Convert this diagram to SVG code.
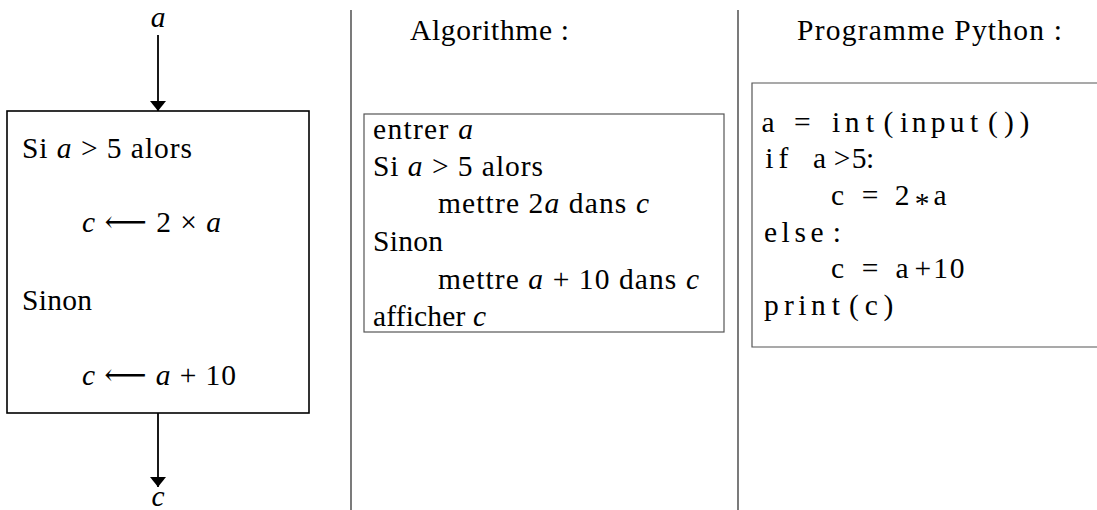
<svg xmlns="http://www.w3.org/2000/svg" width="1097" height="510" viewBox="0 0 1097 510" font-family="'Liberation Serif','DejaVu Serif',serif">
<style>
text{font-family:"Liberation Serif","DejaVu Serif",serif;font-size:29.5px;fill:#000;white-space:pre}
.i{font-style:italic}
.code text{text-anchor:middle}
.box{fill:none;stroke:#000;stroke-width:1.6}
.box2{fill:none;stroke:#555;stroke-width:1.2}
.sep{stroke:#222;stroke-width:1.2}
.edge{stroke:#000;stroke-width:1.8;fill:none}
</style>
<defs>
<marker id="ah" viewBox="0 0 10 16" refX="10" refY="8" markerWidth="10" markerHeight="16" markerUnits="userSpaceOnUse" orient="auto"><path d="M0,0 L10,8 L0,16 z" fill="#000"/></marker>
</defs>
<rect width="1097" height="510" fill="#fff"/>
<g id="separators">
<line class="sep" x1="351" y1="10" x2="351" y2="510"/>
<line class="sep" x1="738" y1="10" x2="738" y2="510"/>
</g>
<g id="input-a"><text class="i" x="158" y="27" text-anchor="middle">a</text></g>
<g id="output-c"><text class="i" x="158" y="506" text-anchor="middle">c</text></g>
<g id="flow-box">
<rect class="box" x="7" y="111" width="302" height="302"/>
<text x="22" y="158" textLength="170" lengthAdjust="spacing">Si <tspan class="i">a</tspan> &gt; 5 alors</text>
<text x="82" y="232" textLength="139" lengthAdjust="spacing"><tspan class="i">c</tspan> ⟵ 2 × <tspan class="i">a</tspan></text>
<text x="22" y="310" textLength="70" lengthAdjust="spacing">Sinon</text>
<text x="82" y="385" textLength="154" lengthAdjust="spacing"><tspan class="i">c</tspan> ⟵ <tspan class="i">a</tspan> + 10</text>
</g>
<g id="connectors">
<line class="edge" x1="158" y1="35" x2="158" y2="111" marker-end="url(#ah)"/>
<line class="edge" x1="158" y1="413" x2="158" y2="487" marker-end="url(#ah)"/>
</g>
<g id="algorithme">
<text x="410" y="40" textLength="159" lengthAdjust="spacing">Algorithme :</text>
<rect class="box2" x="364" y="114" width="360" height="218"/>
<text x="373" y="139" textLength="100" lengthAdjust="spacing">entrer <tspan class="i">a</tspan></text>
<text x="373" y="176" textLength="170" lengthAdjust="spacing">Si <tspan class="i">a</tspan> &gt; 5 alors</text>
<text x="438" y="213" textLength="211" lengthAdjust="spacing">mettre 2<tspan class="i">a</tspan> dans <tspan class="i">c</tspan></text>
<text x="373" y="251" textLength="70" lengthAdjust="spacing">Sinon</text>
<text x="438" y="289" textLength="261" lengthAdjust="spacing">mettre <tspan class="i">a</tspan> + 10 dans <tspan class="i">c</tspan></text>
<text x="373" y="326" textLength="113" lengthAdjust="spacing">afficher <tspan class="i">c</tspan></text>
</g>
<g id="python">
<text x="797" y="40" textLength="265" lengthAdjust="spacing">Programme Python :</text>
<path class="box2" d="M1098,83 H752 V347 H1098"/>
<g class="code">
<text x="768 802.4 836 852 870 888.4 904 919 938 957 974 993 1009 1024.5" y="132">a=int(input())</text>
<text x="769.3 783.5 819.6 842 859 870" y="168">ifa&gt;5:</text>
<text x="837.5 870 902 922 940" y="205 205 205 213 205">c=2*a</text>
<text x="770.6 785.7 800.2 817 836.8" y="242">else:</text>
<text x="837.5 870 902 922.8 940.5 957" y="278">c=a+10</text>
<text x="771.3 788.8 802.4 818.3 835.8 854 871.2 888.4" y="315">print(c)</text>
</g>
</g>
</svg>
